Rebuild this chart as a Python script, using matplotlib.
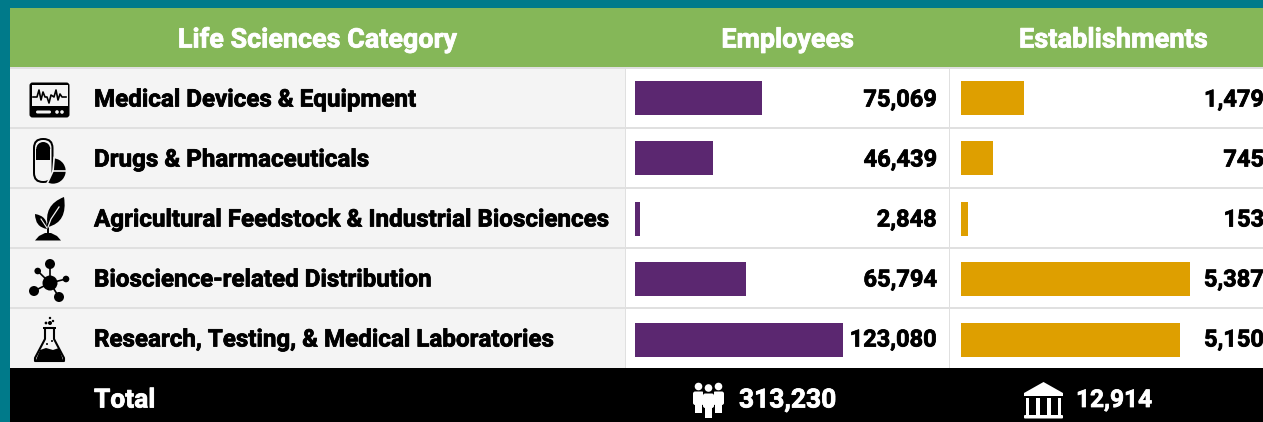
# life sciences table with inline bars
import matplotlib
matplotlib.use("Agg")
import matplotlib.pyplot as plt
import matplotlib.patheffects as pe
from matplotlib.patches import Rectangle, Circle, Polygon, FancyBboxPatch, Wedge, PathPatch
from matplotlib.path import Path

categories = ["Medical Devices & Equipment", "Drugs & Pharmaceuticals",
              "Agricultural Feedstock & Industrial Biosciences",
              "Bioscience-related Distribution",
              "Research, Testing, & Medical Laboratories"]
employees = [75069, 46439, 2848, 65794, 123080]
establishments = [1479, 745, 153, 5387, 5150]
header_labels = ["Life Sciences Category", "Employees", "Establishments"]
total_label = "Total"
total_employees = 313230
total_establishments = 12914

TEAL = "#007A8A"
GREEN = "#85B758"
PURPLE = "#5B2770"
GOLD = "#DE9F00"
ROW_BG = "#F4F4F4"
LINE = "#E0E0E0"
W, H = 1263, 422
FONT = "Roboto"
ROW_TOP = 68
ROW_H = 60
BAR_PITCH = 60.4


def rect(ax, x0, y0, x1, y1, color, z=1):
    ax.add_patch(Rectangle((x0, y0), x1 - x0, y1 - y0, fc=color, ec="none", zorder=z))


def rrect(ax, x0, y0, x1, y1, r, color, z=3):
    ax.add_patch(FancyBboxPatch((x0 + r, y0 + r), x1 - x0 - 2 * r, y1 - y0 - 2 * r,
                                boxstyle=f"round,pad={r},rounding_size={r}",
                                fc=color, ec="none", zorder=z))


def dot(ax, x, y, r, color="black", z=3):
    ax.add_patch(Circle((x, y), r, fc=color, ec="none", zorder=z))


def heavy(ax, x, y, s, color, size, ha):
    # the original face is heavier than Roboto Bold, a thin stroke fattens it
    t = ax.text(x, y, s, color=color, fontsize=size, fontweight="bold", family=FONT, va="center", ha=ha, zorder=8)
    t.set_path_effects([pe.withStroke(linewidth=0.55, foreground=color)])


def icon_monitor(ax):
    rrect(ax, 29.5, 82.5, 69.5, 117.5, 3, "black")
    rect(ax, 31.5, 85, 67.5, 106, ROW_BG, 4)
    xs = [33, 37, 39, 41, 43, 45, 47, 49, 51, 54, 56, 58, 60, 62, 66]
    ys = [97, 97, 90, 100, 92, 97, 97, 103, 95, 97, 90, 100, 94, 97, 97]
    ax.plot(xs, ys, color="black", lw=1.2, zorder=7)
    rrect(ax, 36, 110.5, 51, 113.5, 1.5, ROW_BG, 6)
    dot(ax, 57, 112, 1.8, ROW_BG, 6)
    dot(ax, 62, 112, 1.8, ROW_BG, 6)


def icon_pill(ax):
    rrect(ax, 33, 138, 53.5, 183, 10, "black")
    rrect(ax, 35, 140, 51.5, 181, 8, ROW_BG, 4)
    ax.add_patch(Wedge((43.25, 149), 7, 180, 360, fc="black", ec="none", zorder=5))
    rect(ax, 36.25, 149, 50.25, 159.5, "black", 5)
    ax.add_patch(Wedge((53, 171), 13.5, -85, 115, fc="black", ec=ROW_BG, lw=1.2, zorder=6))
    ax.plot([53, 67], [171, 171], color=ROW_BG, lw=1.2, zorder=7)


def icon_plant(ax):
    leaf = Path([(48, 227), (43, 205), (64, 197), (68, 222), (48, 227)],
                [Path.MOVETO, Path.CURVE3, Path.CURVE3, Path.CURVE3, Path.CURVE3])
    ax.add_patch(PathPatch(leaf, fc="black", ec="none", zorder=3))
    left = Path([(35, 214), (35, 227), (47, 229), (48, 216), (35, 214)],
                [Path.MOVETO, Path.CURVE3, Path.CURVE3, Path.CURVE3, Path.CURVE3])
    ax.add_patch(PathPatch(left, fc="black", ec="none", zorder=3))
    ax.plot([48, 48], [235, 224], color="black", lw=1.4, zorder=4)
    ax.plot([48, 51, 59], [227, 219, 207], color=ROW_BG, lw=0.9, zorder=5)
    ax.plot([47, 41], [228, 219], color=ROW_BG, lw=0.8, zorder=5)
    ax.add_patch(Polygon([(35, 240.5), (39, 236), (45, 233), (51, 233), (57, 236), (61, 240.5)], fc="black", ec="none", zorder=3))


def icon_network(ax):
    cx, cy = 50, 283
    nodes = [(50, 264, 5), (37.7, 271, 3.3), (66, 279, 3.3), (34, 291, 5), (59, 297, 5)]
    for x, y, r in nodes:
        ax.plot([cx, x], [cy, y], color="black", lw=1.2, zorder=3)
        dot(ax, x, y, r)
    dot(ax, cx, cy, 7.5)


def icon_flask(ax):
    ax.add_patch(Polygon([(45, 328), (54, 328), (54, 339), (64, 358), (64, 361), (35, 361), (35, 358), (45, 339)],
                         fc=ROW_BG, ec="black", lw=1.5, joinstyle="round", zorder=3))
    ax.add_patch(Polygon([(40, 350), (46, 348), (53, 350), (59, 348), (63, 360), (36, 360)],
                         fc="black", ec="none", zorder=4))
    rect(ax, 43, 326.5, 56, 329, "black", 4)
    dot(ax, 46, 323, 1.4)
    dot(ax, 50, 323, 2)
    dot(ax, 50, 318, 1.2)
    dot(ax, 53, 321, 1.2)
    dot(ax, 47, 344, 1, "black", 5)
    dot(ax, 52, 341, 1, "black", 5)


def person(ax, x, head_y, top, arm_bot, leg_bot, z):
    dot(ax, x, head_y, 3.8, "white", z)
    rrect(ax, x - 5.5, top, x + 5.5, arm_bot, 2.2, "white", z)
    rect(ax, x - 3.5, arm_bot - 2, x + 3.5, leg_bot, "white", z)


def icon_people(ax):
    person(ax, 698.5, 386.5, 391.5, 405, 413, 3)
    person(ax, 718.5, 386.5, 391.5, 405, 413, 3)
    rect(ax, 703, 392, 714, 419, "black", 4)
    person(ax, 708.5, 388, 393.5, 408, 418, 5)


def icon_bank(ax):
    ax.add_patch(Polygon([(1024, 393), (1043.5, 382), (1063, 393), (1063, 396), (1024, 396)], fc="white", ec="none", zorder=3))
    for x in [1025.5, 1036, 1047, 1057.5]:
        rect(ax, x, 398, x + 3.5, 414.5, "white", 3)
    rrect(ax, 1024, 415, 1063, 418.5, 1, "white", 3)


def bar_column(fig, x0, x1, values, vmax, color):
    # inset axes spanning the five rows, value scale set by the longest bar
    top = 98 - BAR_PITCH / 2
    bax = fig.add_axes([x0 / W, 1 - (top + 5 * BAR_PITCH) / H, (x1 - x0) / W, 5 * BAR_PITCH / H])
    bax.barh(range(5), values, height=34 / BAR_PITCH, color=color)
    bax.set_xlim(0, vmax)
    bax.set_ylim(4.5, -0.5)
    bax.axis("off")
    bax.patch.set_alpha(0)
    return bax


def main():
    fig = plt.figure(figsize=(W / 100, H / 100), dpi=100, facecolor=TEAL)
    ax = fig.add_axes([0, 0, 1, 1])
    ax.set_xlim(0, W)
    ax.set_ylim(H, 0)
    ax.axis("off")

    rect(ax, 10, 8, W, 68, GREEN)
    rect(ax, 10, 68, W, 368, "white")
    rect(ax, 10, 68, 625, 368, ROW_BG)
    rect(ax, 10, 368, W, H, "black")
    rect(ax, 10, 67, W, 68.5, LINE, 2)
    for i in range(1, 5):
        rect(ax, 10, ROW_TOP + i * ROW_H - 1, W, ROW_TOP + i * ROW_H + 0.5, LINE, 2)
    rect(ax, 625, 68, 626, 368, LINE, 2)
    rect(ax, 949, 68, 950, 368, LINE, 2)

    heavy(ax, 317.5, 40, header_labels[0], "white", 19.4, "center")
    heavy(ax, 787.5, 40, header_labels[1], "white", 19.4, "center")
    heavy(ax, 1113.5, 40, header_labels[2], "white", 19.6, "center")

    for i, name in enumerate(categories):
        y = ROW_TOP + (i + 0.5) * ROW_H + 2
        heavy(ax, 94, y, name, "black", 17.4, "left")
        heavy(ax, 937, y, f"{employees[i]:,}", "black", 17, "right")
        heavy(ax, 1264, y, f"{establishments[i]:,}", "black", 17, "right")

    heavy(ax, 94, 400.5, total_label, "white", 19, "left")
    heavy(ax, 739, 400.5, f"{total_employees:,}", "white", 19, "left")
    heavy(ax, 1076, 400.5, f"{total_establishments:,}", "white", 17.6, "left")

    icon_monitor(ax)
    icon_pill(ax)
    icon_plant(ax)
    icon_network(ax)
    icon_flask(ax)
    icon_people(ax)
    icon_bank(ax)

    bar_column(fig, 635, 843, employees, max(employees), PURPLE)
    bar_column(fig, 961, 1190, establishments, max(establishments), GOLD)

    fig.savefig("out.png", dpi=100, facecolor=TEAL)


if __name__ == "__main__":
    main()
